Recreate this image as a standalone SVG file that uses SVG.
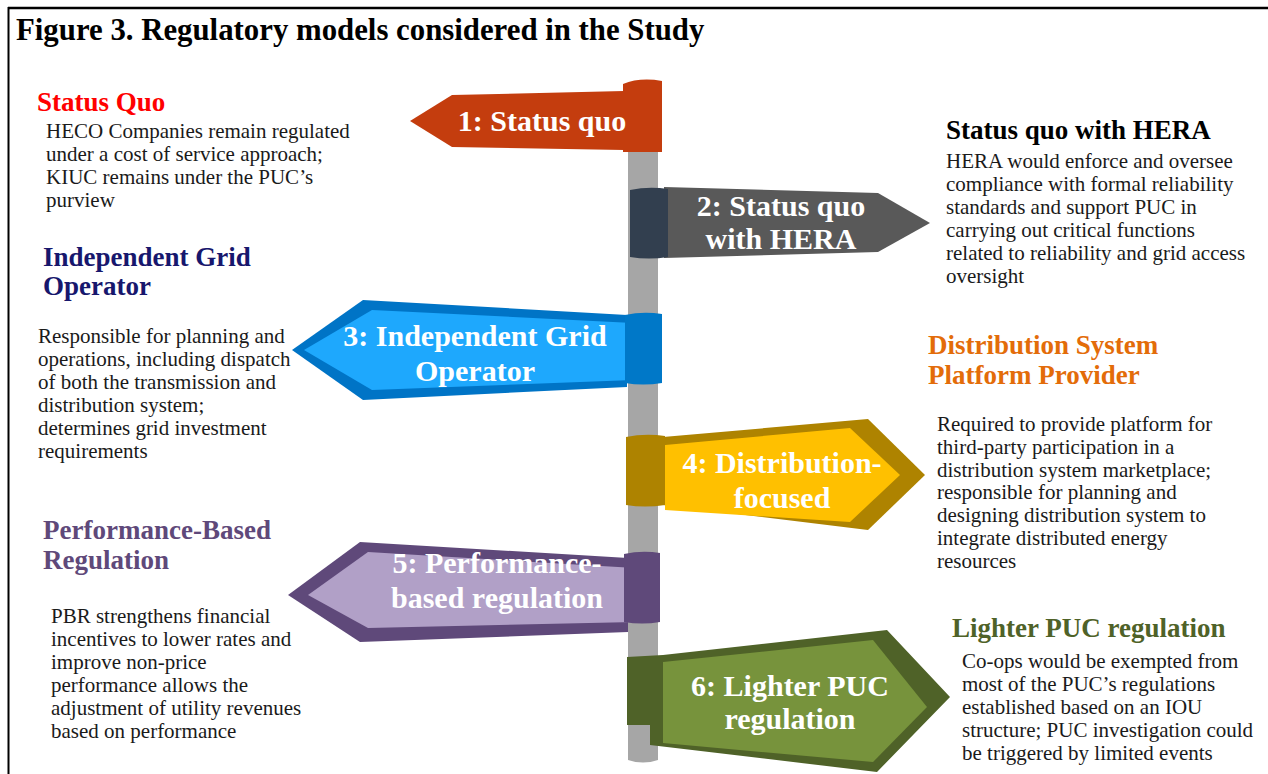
<svg xmlns="http://www.w3.org/2000/svg" width="1268" height="774" viewBox="0 0 1268 774">
<style>
.body{font-family:"Liberation Serif","DejaVu Serif",serif;font-size:21px;fill:#1a1a1a}
.head{font-family:"Liberation Serif","DejaVu Serif",serif;font-size:27px;font-weight:bold}
.sign{font-family:"Liberation Serif","DejaVu Serif",serif;font-size:30px;font-weight:bold;fill:#ffffff;text-anchor:middle}
.title{font-family:"Liberation Serif","DejaVu Serif",serif;font-size:30.8px;font-weight:bold;fill:#000}
</style>
<rect width="1268" height="774" fill="#ffffff"/>
<g id="frame">
<line x1="8" y1="8" x2="1268" y2="8" stroke="#000" stroke-width="2.5"/>
<line x1="8.5" y1="7" x2="8.5" y2="774" stroke="#000" stroke-width="2"/>
</g>
<text id="title" class="title" x="16" y="40">Figure 3. Regulatory models considered in the Study</text>
<g id="pole">
<path d="M628,85 L658,85 L658,760 Q643,765 628,760 Z" fill="#a6a6a6"/>
</g>
<g id="connectors"/>
<g id="sign1">
<path d="M410,121 L452,95 L624,91 L624,150 L452,147 Z" fill="#c43d0e"/>
<path d="M623,84 Q640,77 662,81 L662,152 L623,152 Z" fill="#c43d0e"/>
<text class="sign" x="542" y="131">1: Status quo</text>
</g>
<g id="sign2">
<path d="M664,187 L878,193 L930,223 L878,252 L664,258 Z" fill="#595959"/>
<path d="M630,190 Q649,186 668,189 L668,257 Q649,260 630,257 Z" fill="#323f4f"/>
<text class="sign" x="781" y="216">2: Status quo</text>
<text class="sign" x="781" y="249">with HERA</text>
</g>
<g id="sign3">
<path d="M292,350 L363,300 L627,315 L627,387 L363,400 Z" fill="#0074c6"/>
<path d="M304,350 L372,310 L633,323 L633,380 L372,390 Z" fill="#1ea8fd"/>
<path d="M625,315 Q643,311 662,314 L662,383 Q643,386 625,383 Z" fill="#0078c8"/>
<text class="sign" x="475" y="346">3: Independent Grid</text>
<text class="sign" x="475" y="381">Operator</text>
</g>
<g id="sign4">
<path d="M663,437 L868,419 L925,475 L868,530 L663,505 Z" fill="#ae8300"/>
<path d="M665,445 L850,428 L900,475 L850,522 L665,510 Z" fill="#ffc000"/>
<path d="M626,437 Q645,433 665,436 L665,505 Q645,508 626,505 Z" fill="#ae8300"/>
<text class="sign" x="782" y="473">4: Distribution-</text>
<text class="sign" x="782" y="508">focused</text>
</g>
<g id="sign5">
<path d="M288,595 L360,542 L628,558 L628,632 L360,642 Z" fill="#5f497a"/>
<path d="M308,595 L368,552 L635,568 L635,622 L368,628 Z" fill="#b1a0c7"/>
<path d="M624,554 Q642,550 660,553 L660,622 Q642,625 624,622 Z" fill="#5f497a"/>
<text class="sign" x="497" y="573">5: Performance-</text>
<text class="sign" x="497" y="608">based regulation</text>
</g>
<g id="sign6">
<path d="M627,657 L663,655 L887,630 L950,697 L877,772 L650,745 L650,725 L627,725 Z" fill="#4f6228"/>
<path d="M663,662 L873,640 L927,707 L873,762 L663,743 Z" fill="#77933c"/>
<text class="sign" x="790" y="696">6: Lighter PUC</text>
<text class="sign" x="790" y="729">regulation</text>
</g>
<g id="note1">
<text class="head" x="37" y="111" fill="#ff0000">Status Quo</text>
<text class="body" x="46" y="138">HECO Companies remain regulated</text>
<text class="body" x="46" y="161">under a cost of service approach;</text>
<text class="body" x="46" y="184">KIUC remains under the PUC’s</text>
<text class="body" x="46" y="207">purview</text>
</g>
<g id="note2">
<text class="head" x="946" y="139" fill="#000000">Status quo with HERA</text>
<text class="body" x="946" y="168">HERA would enforce and oversee</text>
<text class="body" x="946" y="191">compliance with formal reliability</text>
<text class="body" x="946" y="214">standards and support PUC in</text>
<text class="body" x="946" y="237">carrying out critical functions</text>
<text class="body" x="946" y="260">related to reliability and grid access</text>
<text class="body" x="946" y="283">oversight</text>
</g>
<g id="note3">
<text class="head" x="43" y="266" fill="#17176d">Independent Grid</text>
<text class="head" x="43" y="295" fill="#17176d">Operator</text>
<text class="body" x="38" y="343">Responsible for planning and</text>
<text class="body" x="38" y="366">operations, including dispatch</text>
<text class="body" x="38" y="389">of both the transmission and</text>
<text class="body" x="38" y="412">distribution system;</text>
<text class="body" x="38" y="435">determines grid investment</text>
<text class="body" x="38" y="458">requirements</text>
</g>
<g id="note4">
<text class="head" x="928" y="354" fill="#e36c09">Distribution System</text>
<text class="head" x="928" y="384" fill="#e36c09">Platform Provider</text>
<text class="body" x="937" y="431">Required to provide platform for</text>
<text class="body" x="937" y="454">third-party participation in a</text>
<text class="body" x="937" y="477">distribution system marketplace;</text>
<text class="body" x="937" y="499">responsible for planning and</text>
<text class="body" x="937" y="522">designing distribution system to</text>
<text class="body" x="937" y="545">integrate distributed energy</text>
<text class="body" x="937" y="568">resources</text>
</g>
<g id="note5">
<text class="head" x="43" y="539" fill="#5f497a">Performance-Based</text>
<text class="head" x="43" y="569" fill="#5f497a">Regulation</text>
<text class="body" x="51" y="623">PBR strengthens financial</text>
<text class="body" x="51" y="646">incentives to lower rates and</text>
<text class="body" x="51" y="669">improve non-price</text>
<text class="body" x="51" y="692">performance allows the</text>
<text class="body" x="51" y="715">adjustment of utility revenues</text>
<text class="body" x="51" y="738">based on performance</text>
</g>
<g id="note6">
<text class="head" x="952" y="637" fill="#4f6228">Lighter PUC regulation</text>
<text class="body" x="962" y="668">Co-ops would be exempted from</text>
<text class="body" x="962" y="691">most of the PUC’s regulations</text>
<text class="body" x="962" y="714">established based on an IOU</text>
<text class="body" x="962" y="737">structure; PUC investigation could</text>
<text class="body" x="962" y="760">be triggered by limited events</text>
</g>
</svg>
